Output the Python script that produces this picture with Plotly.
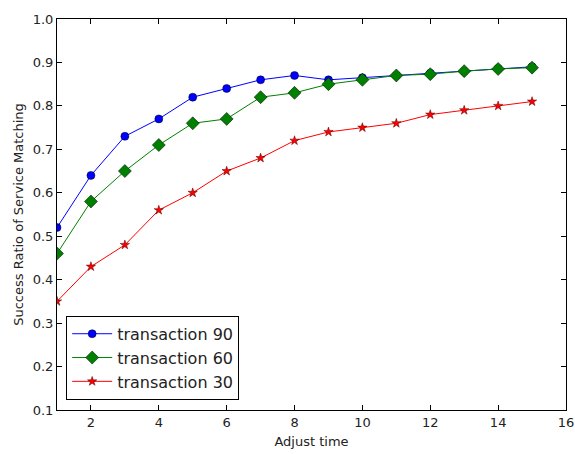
import plotly.graph_objects as go

adjust_time = list(range(1, 16))
t90 = [0.52, 0.64, 0.73, 0.77, 0.82, 0.84, 0.86, 0.87, 0.86, 0.865, 0.87, 0.875, 0.88, 0.886, 0.89]
t60 = [0.46, 0.58, 0.65, 0.71, 0.76, 0.77, 0.82, 0.83, 0.85, 0.86, 0.87, 0.873, 0.88, 0.885, 0.888]
t30 = [0.35, 0.43, 0.48, 0.56, 0.60, 0.65, 0.68, 0.72, 0.74, 0.75, 0.76, 0.78, 0.79, 0.80, 0.81]
x_ticks = [2, 4, 6, 8, 10, 12, 14, 16]
y_ticks = [0.1, 0.2, 0.3, 0.4, 0.5, 0.6, 0.7, 0.8, 0.9, 1.0]

fig = go.Figure()
fig.add_trace(go.Scatter(x=adjust_time, y=t90, mode="lines+markers", name="transaction 90",
                         line=dict(color="#0000ff", width=1),
                         marker=dict(symbol="circle", size=8, color="#0000ff",
                                     line=dict(color="#000000", width=0.5))))
fig.add_trace(go.Scatter(x=adjust_time, y=t60, mode="lines+markers", name="transaction 60",
                         line=dict(color="#008000", width=1),
                         marker=dict(symbol="diamond", size=10, color="#008000",
                                     line=dict(color="#000000", width=0.5))))
fig.add_trace(go.Scatter(x=adjust_time, y=t30, mode="lines+markers", name="transaction 30",
                         line=dict(color="#ff0000", width=1),
                         marker=dict(symbol="star", size=7, color="#ff0000",
                                     line=dict(color="#550000", width=0.5))))

axis_common = dict(showline=True, linecolor="#000000", linewidth=1, mirror="allticks",
                   ticks="inside", ticklen=5, tickcolor="#000000", showgrid=False, zeroline=False,
                   automargin=False, ticklabeloverflow="allow",
                   tickfont=dict(family="DejaVu Sans", size=13, color="#222222"))

fig.update_xaxes(range=[1, 16], tickmode="array", tickvals=x_ticks,
                 ticktext=[str(v) for v in x_ticks],
                 title=dict(text="Adjust time", font=dict(family="DejaVu Sans", size=13, color="#222222"), standoff=8),
                 **axis_common)
fig.update_yaxes(range=[0.1, 1.0], tickmode="array", tickvals=y_ticks,
                 ticktext=[f"{v:.1f}" for v in y_ticks],
                 title=dict(text="Success Ratio of Service Matching", font=dict(family="DejaVu Sans", size=13, color="#222222"), standoff=6),
                 **axis_common)

fig.update_layout(
    width=575, height=454,
    margin=dict(l=57, r=9, t=19, b=44),
    plot_bgcolor="#ffffff", paper_bgcolor="#ffffff",
    font=dict(family="DejaVu Sans", color="#222222"),
    legend=dict(x=0.018, y=0.026, xanchor="left", yanchor="bottom",
                bordercolor="#000000", borderwidth=1, bgcolor="#ffffff",
                font=dict(family="DejaVu Sans", size=16, color="#222222"),
                itemwidth=40, tracegroupgap=2),
    showlegend=True,
)

# remove the default page margin so the 575x454 figure fills the window exactly
fig.write_html("out.html",
               config={"displayModeBar": False},
               post_script="document.body.style.margin='0';document.body.style.overflow='hidden';")
